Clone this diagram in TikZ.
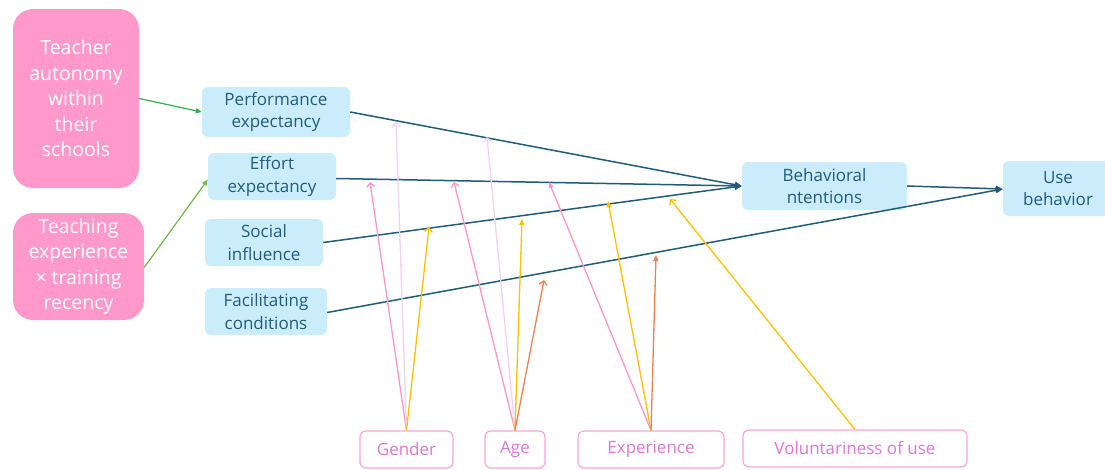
\documentclass[tikz,border=0pt]{standalone}
\usepackage{fontspec}
\setmainfont{Open Sans}
\usetikzlibrary{arrows.meta}

\definecolor{srcpink}{RGB}{255,153,204}
\definecolor{boxblue}{RGB}{203,237,251}
\definecolor{boxtext}{RGB}{33,92,122}
\definecolor{pathteal}{RGB}{32,92,122}
\definecolor{greenA}{RGB}{40,180,80}
\definecolor{greenB}{RGB}{110,185,70}
\definecolor{modborder}{RGB}{255,165,210}
\definecolor{modtext}{RGB}{222,118,212}
\definecolor{lnpink}{RGB}{255,150,200}
\definecolor{lnlight}{RGB}{246,208,240}
\definecolor{lnyellow}{RGB}{255,192,0}
\definecolor{lnorange}{RGB}{236,128,78}

\tikzset{
  srcbox/.style={rectangle, rounded corners=20pt, fill=srcpink, text=white,
    align=center, inner sep=0pt, font=\fontsize{19.5}{25.5}\selectfont},
  constbox/.style={rectangle, rounded corners=6pt, fill=boxblue, text=boxtext,
    align=center, inner sep=0pt, font=\fontsize{17}{22.5}\selectfont},
  modbox/.style={rectangle, rounded corners=6pt, draw=modborder, line width=1.2pt,
    fill=white, text=modtext, inner sep=0pt, font=\fontsize{17}{20}\selectfont},
  mainpath/.style={draw=pathteal, line width=1.5pt,
    -{Triangle[length=7pt,width=6pt]}},
  linkA/.style={draw=greenA, line width=1.2pt, -{Triangle[length=6pt,width=5pt]}},
  linkB/.style={draw=greenB, line width=1.2pt, -{Triangle[length=6pt,width=5pt]}},
  openhead/.style={-{Straight Barb[length=4pt,width=8pt]}},
  fullhead/.style={-{Triangle[length=6pt,width=5pt]}},
  modline/.style={line width=1.3pt},
}

\begin{document}
\begin{tikzpicture}[x=1pt,y=-1pt]
\useasboundingbox (0,0) rectangle (1105,469);
\clip (0,0) rectangle (1105,469);

% antecedents
\node[srcbox, minimum width=126pt, minimum height=179pt] (ta) at (76,98.5)
  {Teacher\\autonomy\\within\\their\\schools};
\node[srcbox, minimum width=131pt, minimum height=107pt] (te) at (78.5,266.5)
  {Teaching\\experience\\× training\\recency};

% UTAUT constructs
\node[constbox, minimum width=148pt, minimum height=50pt] (pe) at (276,112)
  {Performance\\expectancy};
\node[constbox, minimum width=128pt, minimum height=47pt] (ee) at (272,176.5)
  {Effort\\expectancy};
\node[constbox, minimum width=118pt, minimum height=47pt] (si) at (264,242.5)
  {Social\\influence};
\node[constbox, minimum width=122pt, minimum height=47pt] (fc) at (266,311.5)
  {Facilitating\\conditions};
\node[constbox, minimum width=165pt, minimum height=48pt] (bi) at (824.5,186)
  {Behavioral\\ntentions};
\node[constbox, minimum width=110pt, minimum height=55pt] (ub) at (1058,188.5)
  {Use\\behavior};

% moderators
\node[modbox, minimum width=93pt, minimum height=37pt] (gen) at (406.5,449.5) {Gender};
\node[modbox, minimum width=60pt, minimum height=37pt] (age) at (515,449.5) {Age};
\node[modbox, minimum width=146pt, minimum height=37pt] (exp) at (651,449.5) {Experience};
\node[modbox, minimum width=224pt, minimum height=37pt] (vol) at (855,448.5) {Voluntariness of use};

% antecedent links
\draw[linkA] (ta.east) -- (pe.west);
\draw[linkB] ([yshift=-1pt]te.east) -- ([yshift=-3pt]ee.west);

% main model paths
\draw[mainpath] (pe.east) -- (bi.west);
\draw[mainpath] ([yshift=-2pt]ee.east) -- (bi.west);
\draw[mainpath] (si.east) -- (bi.west);
\draw[mainpath] (bi.east) -- ([yshift=-0.5pt]ub.west);
\draw[mainpath] ([yshift=-1pt]fc.east) -- ([yshift=-0.5pt]ub.west);

% points where moderator arrows meet the paths
\coordinate (g1) at (370,182);
\coordinate (g2) at (396,122);
\coordinate (g3) at (429,227);
\coordinate (a1) at (454,182);
\coordinate (a2) at (487,137);
\coordinate (a3) at (522,219);
\coordinate (a4) at (544,280);
\coordinate (e1) at (549,182);
\coordinate (e2) at (608,201);
\coordinate (e3) at (656,255);
\coordinate (v1) at (670,199);

% moderator arrows
\draw[modline, lnpink, openhead] (gen.north) -- (g1);
\draw[modline, lnlight, openhead] (gen.north) -- (g2);
\draw[modline, lnyellow, openhead] (gen.north) -- (g3);
\draw[modline, lnpink, openhead] (age.north) -- (a1);
\draw[modline, lnlight, openhead] (age.north) -- (a2);
\draw[modline, lnyellow, fullhead] (age.north) -- (a3);
\draw[modline, lnorange, openhead] (age.north) -- (a4);
\draw[modline, lnpink, fullhead] (exp.north) -- (e1);
\draw[modline, lnyellow, fullhead] (exp.north) -- (e2);
\draw[modline, lnorange, fullhead] (exp.north) -- (e3);
\draw[modline, lnyellow, openhead] (vol.north) -- (v1);
\end{tikzpicture}
\end{document}
